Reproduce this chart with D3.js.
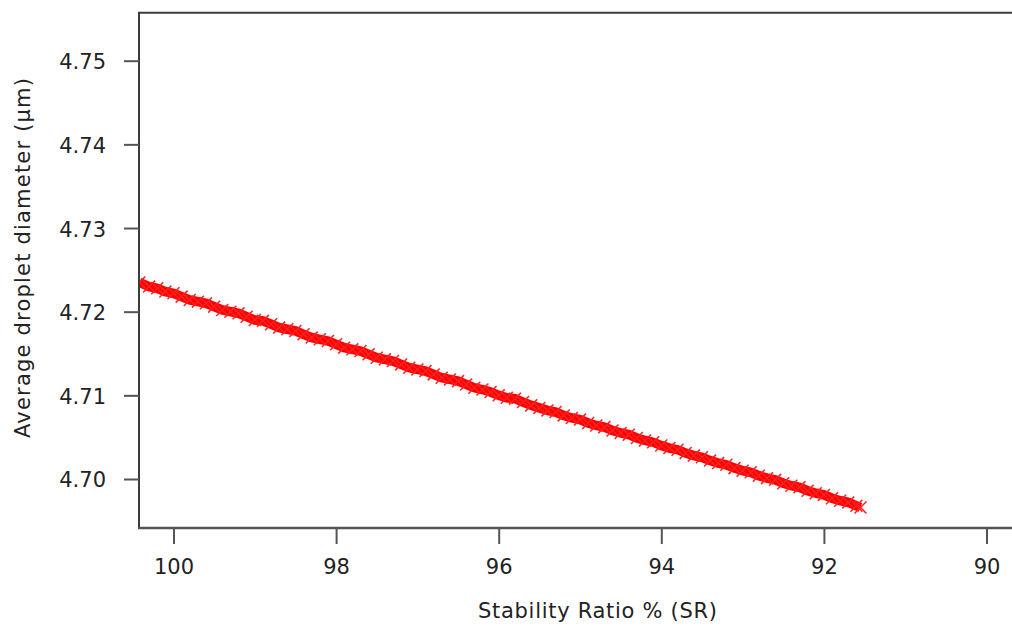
<!DOCTYPE html>
<html>
<head>
<meta charset="utf-8">
<script src="https://cdn.jsdelivr.net/npm/d3@7"></script>
<style>
  html, body { margin: 0; padding: 0; background: #fff; }
  svg { display: block; }
</style>
</head>
<body>
<svg id="chart" width="1012" height="626"></svg>
<script>
// ---- data ----
const stabilityRatio = [
  100.42, 100.3, 100.2, 100.1, 100.0, 99.9, 99.8, 99.7, 99.6, 99.5,
  99.4, 99.3, 99.2, 99.1, 99.0, 98.9, 98.8, 98.7, 98.6, 98.5,
  98.4, 98.3, 98.2, 98.1, 98.0, 97.9, 97.8, 97.7, 97.6, 97.5,
  97.4, 97.3, 97.2, 97.1, 97.0, 96.9, 96.8, 96.7, 96.6, 96.5,
  96.4, 96.3, 96.2, 96.1, 96.0, 95.9, 95.8, 95.7, 95.6, 95.5,
  95.4, 95.3, 95.2, 95.1, 95.0, 94.9, 94.8, 94.7, 94.6, 94.5,
  94.4, 94.3, 94.2, 94.1, 94.0, 93.9, 93.8, 93.7, 93.6, 93.5,
  93.4, 93.3, 93.2, 93.1, 93.0, 92.9, 92.8, 92.7, 92.6, 92.5,
  92.4, 92.3, 92.2, 92.1, 92.0, 91.9, 91.8, 91.7, 91.6, 91.55
];
const dropletDiameter = [
  4.7235, 4.7230, 4.7228, 4.7224, 4.7222, 4.7218, 4.7214, 4.7212, 4.7210, 4.7206,
  4.7202, 4.7200, 4.7198, 4.7194, 4.7190, 4.7189, 4.7185, 4.7181, 4.7179, 4.7177,
  4.7173, 4.7169, 4.7167, 4.7165, 4.7161, 4.7157, 4.7155, 4.7153, 4.7149, 4.7145,
  4.7143, 4.7141, 4.7137, 4.7133, 4.7131, 4.7129, 4.7125, 4.7121, 4.7119, 4.7117,
  4.7113, 4.7109, 4.7107, 4.7104, 4.7100, 4.7097, 4.7096, 4.7092, 4.7088, 4.7085,
  4.7082, 4.7080, 4.7076, 4.7073, 4.7071, 4.7067, 4.7064, 4.7062, 4.7058, 4.7055,
  4.7053, 4.7049, 4.7046, 4.7044, 4.7040, 4.7037, 4.7035, 4.7031, 4.7028, 4.7026,
  4.7022, 4.7019, 4.7017, 4.7013, 4.7010, 4.7008, 4.7004, 4.7001, 4.6999, 4.6995,
  4.6992, 4.6990, 4.6986, 4.6983, 4.6981, 4.6977, 4.6974, 4.6972, 4.6968, 4.6966
];
const xTicks = [100, 98, 96, 94, 92, 90];
const yTicks = [4.70, 4.71, 4.72, 4.73, 4.74, 4.75];
const xLabel = "Stability Ratio % (SR)";
const yLabel = "Average droplet diameter (\u00b5m)";

// ---- layout ----
const svg = d3.select("#chart");
const plot = { left: 139, right: 1040, top: 12.7, bottom: 528 };
const font = "'DejaVu Sans', sans-serif";

const x = d3.scaleLinear().domain([100, 90]).range([173.5, 986.5]);
const y = d3.scaleLinear().domain([4.70, 4.75]).range([479, 60.7]);

const data = stabilityRatio.map((s, i) => ({ s, d: dropletDiameter[i] }));

// data band
svg.append("clipPath").attr("id", "clip")
  .append("rect").attr("x", plot.left + 1).attr("y", plot.top)
  .attr("width", plot.right - plot.left).attr("height", plot.bottom - plot.top);
const gData = svg.append("g").attr("clip-path", "url(#clip)");
gData.append("path")
  .datum(data)
  .attr("fill", "none")
  .attr("stroke", "#ff0000")
  .attr("stroke-width", 9.5)
  .attr("stroke-linecap", "butt")
  .attr("d", d3.line().x(p => x(p.s)).y(p => y(p.d)));

const markerPath = d3.symbol().type(d3.symbolTimes || d3.symbolX).size(95);
gData.selectAll("path.mk")
  .data(data)
  .join("path")
  .attr("class", "mk")
  .attr("d", markerPath)
  .attr("transform", p => `translate(${x(p.s)},${y(p.d)})`)
  .attr("fill", "none")
  .attr("stroke", "#ff2020")
  .attr("stroke-width", 1.5);

// spines
const spine = "#3c3c3c";
svg.append("line").attr("x1", plot.left).attr("x2", plot.left)
  .attr("y1", plot.top).attr("y2", plot.bottom + 1)
  .attr("stroke", spine).attr("stroke-width", 2);
svg.append("line").attr("x1", plot.left - 1).attr("x2", plot.right)
  .attr("y1", plot.top).attr("y2", plot.top)
  .attr("stroke", spine).attr("stroke-width", 2);
svg.append("line").attr("x1", plot.left - 1).attr("x2", plot.right)
  .attr("y1", plot.bottom).attr("y2", plot.bottom)
  .attr("stroke", "#555").attr("stroke-width", 2.5);

// x axis
const xAxis = d3.axisBottom(x).tickValues(xTicks).tickSize(16).tickPadding(15)
  .tickFormat(d3.format("d"));
const gx = svg.append("g").attr("transform", `translate(0,${plot.bottom})`).call(xAxis);
gx.select(".domain").remove();
gx.selectAll(".tick line").attr("stroke", "#555").attr("stroke-width", 2)
  .attr("y1", 1);
gx.selectAll(".tick text").attr("font-family", font).attr("font-size", 21)
  .attr("fill", "#222");

// y axis
const yAxis = d3.axisLeft(y).tickValues(yTicks).tickSize(15).tickPadding(18)
  .tickFormat(d3.format(".2f"));
const gy = svg.append("g").attr("transform", `translate(${plot.left},0)`).call(yAxis);
gy.select(".domain").remove();
gy.selectAll(".tick line").attr("stroke", "#555").attr("stroke-width", 2);
gy.selectAll(".tick text").attr("font-family", font).attr("font-size", 21)
  .attr("fill", "#222").attr("dy", "0.38em");

// axis titles
svg.append("text")
  .attr("x", 597.5).attr("y", 618)
  .attr("text-anchor", "middle")
  .attr("font-family", font).attr("font-size", 21).attr("fill", "#222")
  .attr("textLength", 239).attr("lengthAdjust", "spacing")
  .text(xLabel);

svg.append("text")
  .attr("transform", "translate(30,258) rotate(-90)")
  .attr("text-anchor", "middle")
  .attr("font-family", font).attr("font-size", 21).attr("fill", "#222")
  .attr("textLength", 360).attr("lengthAdjust", "spacing")
  .text(yLabel);
</script>
</body>
</html>
